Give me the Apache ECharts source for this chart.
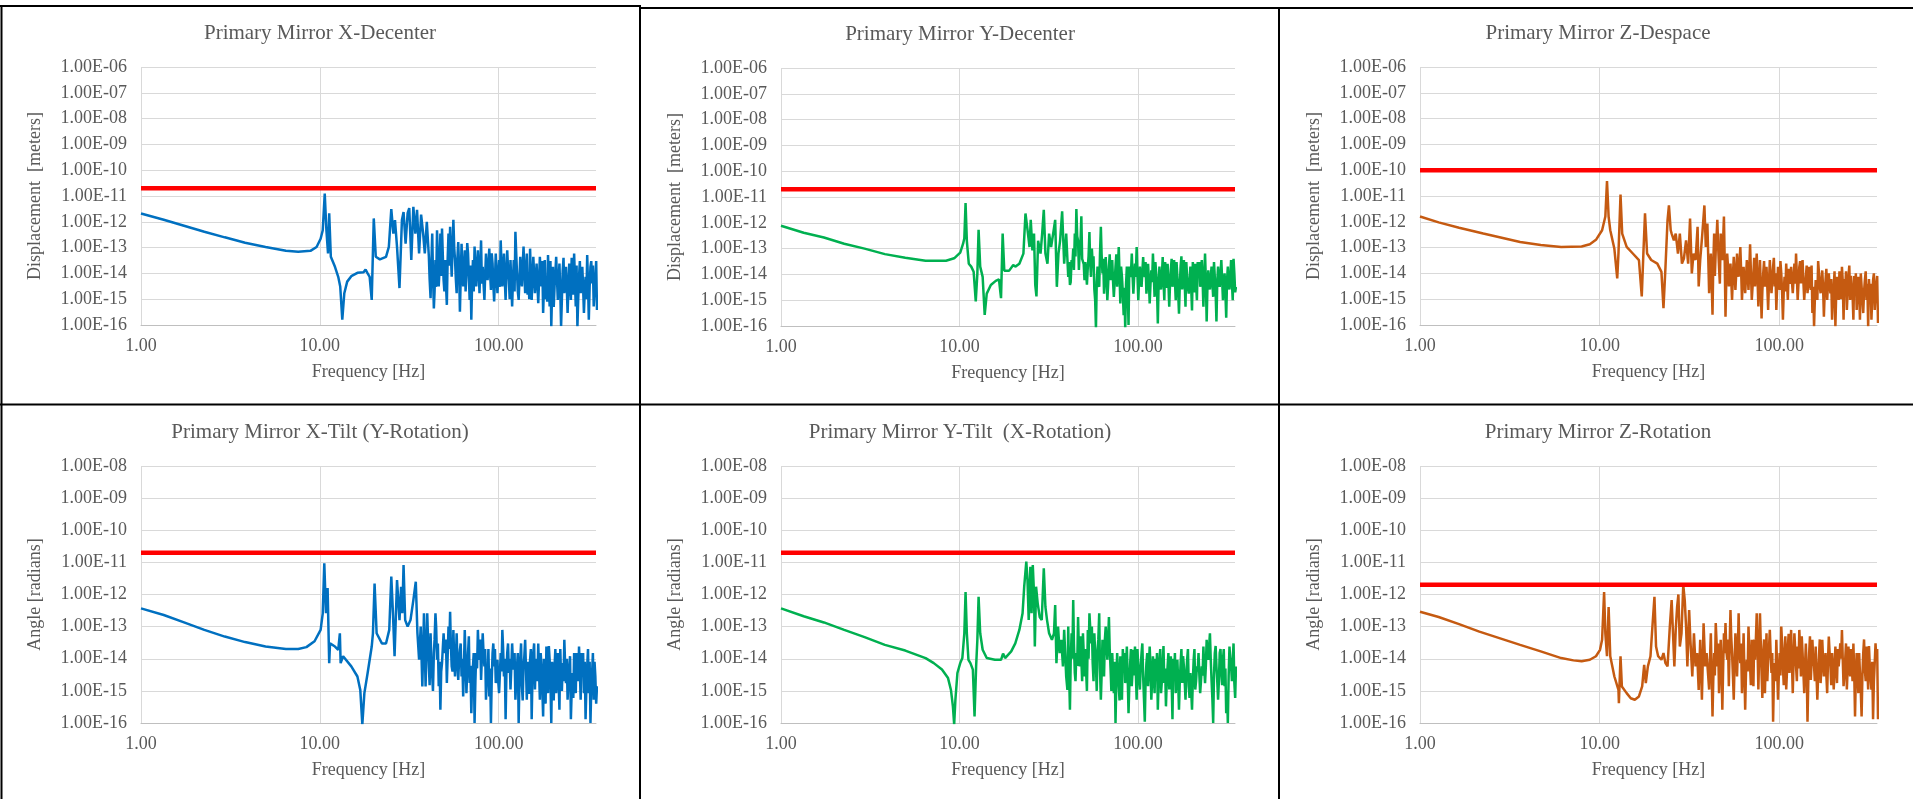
<!DOCTYPE html>
<html>
<head>
<meta charset="utf-8">
<title>Primary Mirror Motion Spectra</title>
<script src="https://cdn.jsdelivr.net/npm/echarts@6/dist/echarts.min.js"></script>
<style>
  html, body { margin: 0; padding: 0; background: #ffffff; }
  #chart { width: 1913px; height: 799px; }
</style>
</head>
<body>
<div id="chart"></div>
<script>
// Frequency grid [Hz] for the dense part of every spectrum (above ~40 Hz)
const GRID_HZ = [
  40.7, 41.6, 42.5, 43.4, 44.3, 45.2, 46.2, 47.2, 48.2, 49.2,
  50.2, 51.3, 52.4, 53.5, 54.6, 55.8, 57.0, 58.2, 59.4, 60.7,
  62.0, 63.3, 64.6, 66.0, 67.4, 68.8, 70.3, 71.8, 73.3, 74.9,
  76.5, 78.1, 79.7, 81.4, 83.2, 84.9, 86.7, 88.6, 90.5, 92.4,
  94.3, 96.3, 98.4, 100.5, 102.6, 104.8, 107.0, 109.3, 111.6, 114.0,
  116.4, 118.9, 121.4, 124.0, 126.6, 129.3, 132.0, 134.8, 137.7, 140.6,
  143.6, 146.7, 149.8, 152.9, 156.2, 159.5, 162.9, 166.4, 169.9, 173.5,
  177.2, 181.0, 184.8, 188.7, 192.7, 196.8, 201.0, 205.3, 209.6, 214.1,
  218.6, 223.3, 228.0, 232.8, 237.8, 242.8, 248.0, 253.3, 258.6, 264.1,
  269.7, 275.5, 281.3, 287.3, 293.4, 299.6, 306.0, 312.5, 319.1, 325.9,
  332.8, 339.9, 347.1, 354.5
];
// In-between samples of the same grid [Hz]
const GRID_MID_HZ = [
  41.1, 42.0, 42.9, 43.8, 44.7, 45.7, 46.7, 47.7, 48.7, 49.7,
  50.7, 51.8, 52.9, 54.0, 55.2, 56.4, 57.6, 58.8, 60.0, 61.3,
  62.6, 63.9, 65.3, 66.7, 68.1, 69.5, 71.0, 72.5, 74.1, 75.7,
  77.3, 78.9, 80.5, 82.3, 84.0, 85.8, 87.6, 89.5, 91.4, 93.3,
  95.3, 97.3, 99.4, 101.5, 103.7, 105.9, 108.1, 110.4, 112.8, 115.2,
  117.6, 120.1, 122.7, 125.3, 127.9, 130.6, 133.4, 136.2, 139.1, 142.1,
  145.1, 148.2, 151.3, 154.5, 157.8, 161.2, 164.6, 168.1, 171.7, 175.3,
  179.1, 182.9, 186.7, 190.7, 194.7, 198.9, 203.1, 207.4, 211.8, 216.3,
  221.0, 225.6, 230.4, 235.3, 240.3, 245.4, 250.6, 255.9, 261.3, 266.9,
  272.6, 278.4, 284.3, 290.3, 296.5, 302.8, 309.2, 315.8, 322.5, 329.3,
  336.3, 343.5, 350.8
];

// Frequency axis range [Hz]
const FREQ_MIN = 1;
const FREQ_MAX = 350;

// ---- X-Decenter [m] ----
const X_DECENTER_LOW = [
  [1.0,2.1e-12],[1.34,1.2e-12],[1.74,7e-13],[2.26,4.1e-13],[2.94,2.5e-13],[3.82,1.55e-13],[4.97,1.06e-13],
  [6.46,7.5e-14],[7.57,6.9e-14],[8.86,7.5e-14],[9.59,1.06e-13],[10.1,2.2e-13],[10.38,4.7e-13],[10.65,1.25e-11],
  [10.88,4.7e-13],[11.11,5.9e-14],[11.28,2.15e-12],[11.52,4.4e-14],[12.15,1.8e-14],[12.67,7.4e-15],[13.0,3.1e-15],
  [13.35,1.6e-16],[13.7,1.7e-15],[14.22,4.8e-15],[14.99,7.8e-15],[16.22,1.05e-14],[17.55,1.1e-14],[18.02,1.4e-14],
  [18.5,1e-14],[18.99,7.4e-15],[19.5,9.4e-16],[20.02,1.35e-12],[20.55,4.4e-14],[21.66,3.5e-14],[23.44,4.4e-14],
  [24.31,1.06e-13],[25.09,3.1e-12],[25.76,3.5e-13],[26.31,1.17e-12],[27.01,1.06e-13],[27.88,2.7e-15],[28.77,1.17e-12],
  [29.38,2.4e-12],[30.16,1.43e-13],[30.96,2.15e-12],[31.62,3.4e-12],[32.46,3.3e-14],[33.33,3.8e-12],[34.21,3.5e-13],
  [34.95,2.9e-12],[35.88,5.9e-14],[36.83,1.9e-12],[37.81,3.5e-13],[38.62,5.9e-14],[39.64,1e-12]
];
const X_DECENTER_HIGH = [
  4.4e-14, 1.1e-15, 3.5e-13, 4.4e-16, 3.3e-14, 4.7e-13, 3.1e-15, 3.5e-13, 5.5e-13, 5.5e-15,
  3.3e-14, 6e-16, 3.5e-13, 6.4e-13, 7.4e-15, 1.2e-12, 3.3e-14, 1.7e-15, 1.65e-13, 3.3e-16,
  1.4e-13, 3.1e-15, 7.9e-14, 1e-14, 5.9e-14, 9.4e-16, 1.6e-16, 3.3e-14, 1.1e-13, 3.1e-15,
  7.9e-14, 1.7e-15, 1.9e-13, 1.8e-14, 9.4e-16, 5.9e-14, 5.5e-15, 9.1e-14, 2.3e-15, 2.4e-14,
  8.1e-16, 5.9e-14, 1.7e-15, 3.3e-14, 1.9e-13, 3.1e-15, 5.9e-14, 9.4e-16, 7.9e-14, 5.5e-15,
  3.3e-14, 5.2e-16, 3.3e-14, 4.1e-13, 1e-14, 9.4e-16, 4.4e-14, 3.1e-15, 1.1e-13, 1.7e-15,
  5.9e-14, 1e-14, 9.1e-14, 9.4e-16, 4.4e-14, 1.7e-15, 2.4e-14, 7e-16, 4.4e-14, 3.1e-15,
  2.9e-16, 3.3e-14, 5.5e-15, 5.1e-14, 5.2e-16, 8.6e-17, 1.8e-14, 3.1e-15, 4.4e-14, 9.4e-16,
  2.4e-14, 9e-17, 1.3e-14, 1.7e-15, 1.8e-14, 2.9e-16, 2.4e-14, 9.4e-16, 1e-14, 5.9e-14,
  5.2e-16, 8.6e-17, 7.4e-15, 1.7e-15, 1.8e-14, 2.9e-16, 7.4e-15, 5.1e-14, 1.6e-16, 1.8e-14,
  4.1e-15, 5.2e-16, 7.4e-15, 3.8e-16
];
const X_DECENTER_MID = [
  6e-15, 2e-14, 1e-14, 2e-15, 3e-15, 4e-14, 1.5e-14, 8e-15, 5e-14, 2e-15,
  4e-15, 3e-14, 2e-14, 6e-14, 9e-14, 1e-13, 6e-15, 4e-14, 2e-14, 6e-15,
  1.5e-14, 1.5e-14, 2e-15, 1.5e-13, 8e-15, 2e-14, 4e-15, 2e-15, 2e-14, 1.5e-14,
  1.2e-14, 1.8e-14, 4e-15, 4e-15, 8e-15, 1.5e-14, 2e-14, 1e-14, 6e-14, 4e-15,
  6e-15, 1e-14, 8e-15, 3e-15, 2e-14, 1.2e-14, 6e-15, 1e-14, 1.5e-14, 1e-15,
  4e-15, 5e-15, 2e-15, 6e-14, 2e-15, 6e-15, 1e-14, 2e-14, 1.2e-14, 1e-14,
  1.5e-15, 1e-15, 8e-15, 6e-15, 9e-15, 6e-15, 4e-15, 5e-15, 1e-14, 3e-14,
  3e-15, 1e-15, 8e-16, 5e-15, 3e-14, 2e-15, 5e-16, 1e-14, 6e-15, 5e-15,
  2e-15, 1e-15, 4e-14, 6e-15, 3e-15, 3e-15, 5e-15, 4e-14, 1.5e-15, 6e-15,
  2e-14, 1e-15, 3e-14, 4e-15, 3e-15, 2e-15, 1e-15, 4e-15, 3e-15, 3e-14,
  2e-14, 2e-15, 3e-14
];

// ---- Y-Decenter [m] ----
const Y_DECENTER_LOW = [
  [1.0,7.7e-13],[1.34,4.1e-13],[1.74,2.7e-13],[2.26,1.55e-13],[2.94,1e-13],[3.82,6.1e-14],[4.97,4.4e-14],
  [6.46,3.4e-14],[8.41,3.4e-14],[9.34,4.2e-14],[10.1,7e-14],[10.48,1.55e-13],[10.65,2.5e-13],[10.82,5.8e-12],
  [11.0,2e-13],[11.28,2.6e-14],[11.64,2e-14],[12.01,1.27e-14],[12.34,9e-16],[12.6,1.1e-14],[12.8,5.4e-13],
  [13.07,2e-14],[13.49,8e-15],[13.85,2.7e-16],[14.22,1.8e-15],[14.99,3.9e-15],[15.97,5.6e-15],[16.65,6.4e-15],
  [17.1,1.2e-15],[17.46,3.8e-13],[17.83,1.4e-14],[18.99,1.4e-14],[20.02,2.3e-14],[20.55,2e-14],[21.66,2.6e-14],
  [22.82,6.4e-14],[23.44,2.3e-12],[24.06,5.4e-13],[24.7,1.15e-13],[25.09,1.3e-12],[25.63,8.5e-14],[26.17,3.8e-13],
  [26.59,3.9e-15],[27.01,1.4e-15],[27.59,2e-13],[28.47,6.4e-14],[29.07,3.8e-13],[29.69,3.2e-12],[30.32,6.4e-14],
  [31.13,2.6e-14],[31.79,3.8e-13],[32.63,1.15e-13],[33.5,3.8e-13],[34.39,1.3e-12],[35.13,3.3e-15],[35.88,6.4e-14],
  [36.64,2e-13],[37.62,2.8e-12],[38.62,2.6e-14],[39.64,3.8e-13]
];
const Y_DECENTER_HIGH = [
  8e-15, 3.9e-15, 3.6e-14, 1e-13, 3.8e-13, 3.4e-12, 2e-13, 8.5e-14, 1.8e-12, 3.6e-14,
  6e-15, 1.1e-14, 2e-14, 4.4e-13, 8e-15, 2.6e-14, 2.6e-15, 8e-17, 2e-14, 3.3e-15,
  7e-13, 1.1e-14, 1.8e-15, 4.7e-14, 1e-15, 2e-14, 6e-15, 3.6e-14, 1.35e-15, 2e-14,
  3.3e-15, 1.15e-13, 7.5e-16, 8e-15, 2.6e-16, 8e-17, 2e-14, 1.1e-16, 8e-15, 6.4e-14,
  1.8e-15, 2.6e-14, 1.15e-13, 1e-15, 2e-14, 3.3e-15, 4.7e-14, 8e-15, 1.8e-15, 2.6e-14,
  7.5e-16, 1.45e-14, 6.4e-14, 1.35e-15, 1.1e-14, 1.25e-16, 2e-14, 2.6e-15, 4.7e-14, 1e-15,
  8e-15, 2.6e-14, 5.6e-16, 1.45e-14, 3.3e-15, 3.6e-14, 1e-15, 8e-15, 3e-16, 2e-14,
  2.6e-15, 3.6e-14, 5.6e-16, 8e-15, 1.8e-15, 2e-14, 4e-16, 6e-15, 2.6e-14, 1e-15,
  1.1e-14, 3.3e-15, 3.6e-14, 5.6e-16, 6.4e-14, 1.5e-16, 1.45e-14, 2.6e-15, 2e-14, 1.35e-15,
  8e-15, 1.5e-16, 2e-14, 3.3e-15, 3.6e-14, 1e-15, 1.1e-14, 2.1e-16, 2e-14, 2.6e-15,
  3.6e-14, 1e-15, 1.1e-14, 3.3e-15
];
const Y_DECENTER_MID = [
  3e-14, 5e-15, 2e-14, 1.5e-14, 5e-14, 3e-13, 1.5e-14, 2e-13, 4e-14, 2.5e-14,
  3e-14, 4e-15, 5e-14, 3e-14, 1e-13, 5e-14, 1e-15, 5e-15, 4e-15, 6e-14,
  6e-14, 4e-14, 8e-15, 1e-14, 4e-15, 6e-14, 1e-14, 6e-15, 5e-15, 6e-14,
  2e-14, 1e-14, 2e-14, 2e-15, 3e-15, 4e-15, 3e-15, 2e-14, 1e-14, 1e-14,
  8e-15, 8e-15, 1e-14, 6e-15, 6e-15, 1.2e-14, 1.2e-14, 3e-14, 5e-15, 6e-15,
  4e-15, 5e-15, 1e-14, 3e-14, 3e-15, 4e-15, 5e-15, 8e-15, 6e-15, 3e-14,
  3e-15, 5e-15, 4e-15, 4e-14, 8e-15, 6e-15, 3e-14, 2e-15, 4e-15, 5e-14,
  1e-14, 5e-15, 3e-14, 3e-15, 5e-15, 3e-15, 3e-14, 2e-15, 5e-15, 3e-14,
  3e-14, 1e-14, 6e-15, 8e-15, 6e-15, 4e-15, 5e-15, 7e-15, 5e-15, 3e-14,
  2e-15, 5e-15, 6e-15, 1e-14, 6e-15, 4e-15, 2e-15, 6e-15, 4e-15, 8e-15,
  5e-15, 4e-14, 2e-15
];

// ---- Z-Despace [m] ----
const Z_DESPACE_LOW = [
  [1.0,1.6e-12],[1.27,9.5e-13],[1.65,5.9e-13],[2.25,3.5e-13],[3.61,1.65e-13],[4.7,1.25e-13],[6.11,1.06e-13],
  [7.94,1.1e-13],[8.82,1.35e-13],[9.54,2e-13],[10.32,4.7e-13],[10.76,1.6e-12],[10.99,3.8e-11],[11.22,1.6e-12],
  [11.46,4.7e-13],[12.08,9e-14],[12.53,6.4e-15],[12.73,5.9e-14],[13.07,1.15e-11],[13.35,3.5e-13],[14.14,1.06e-13],
  [15.3,5.9e-14],[16.55,3.3e-14],[17.16,1.27e-15],[17.52,5.9e-14],[17.89,2.15e-12],[18.37,5.9e-14],[19.36,3.3e-14],
  [20.95,2.4e-14],[22.08,1.15e-14],[22.67,4.5e-16],[23.26,1.8e-14],[23.88,1.17e-12],[24.31,4.3e-12],[24.87,4.7e-13],
  [25.17,3.5e-13],[25.9,1.9e-13],[26.52,3.5e-13],[27.29,5.9e-14],[27.96,3.5e-13],[28.72,2.4e-14],[29.46,3.8e-14],
  [30.28,1.9e-13],[31.1,2.4e-14],[31.87,1.35e-12],[32.6,1e-14],[33.3,5.9e-14],[34.2,3.3e-14],[35.1,6.4e-13],
  [35.6,3.1e-15],[36.3,3.3e-14],[37.3,3.5e-13],[38.3,4.3e-12],[39.0,1.06e-13],[39.8,8.6e-13]
];
const Z_DESPACE_HIGH = [
  1.7e-15, 5.9e-14, 2.5e-16, 3.5e-13, 7.9e-14, 1.2e-12, 1.8e-14, 3.5e-13, 3.3e-14, 1.6e-12,
  2.1e-16, 5.9e-14, 3.1e-15, 2.4e-14, 9.4e-16, 4.4e-14, 2.3e-15, 5.9e-14, 7.4e-15, 1.06e-13,
  9.4e-16, 1.8e-14, 1.7e-15, 3.3e-14, 2.3e-15, 1.35e-13, 9.4e-16, 1e-14, 3.1e-15, 5.9e-14,
  5.2e-16, 3.3e-14, 1.8e-16, 1e-14, 3.1e-15, 1.8e-14, 3.8e-16, 3.3e-14, 1.7e-15, 1.8e-14,
  3.1e-15, 3.8e-16, 1.8e-14, 2.3e-15, 1e-14, 1.6e-16, 7.4e-15, 2.4e-14, 9.4e-16, 5.5e-15,
  1.8e-14, 1.7e-15, 2.4e-14, 5.9e-14, 9.4e-16, 1.8e-14, 4.1e-15, 3.3e-14, 9.4e-16, 7.4e-15,
  1.7e-15, 1.8e-14, 2.3e-15, 2.9e-16, 8.6e-17, 5.5e-15, 9.4e-16, 1e-14, 1.7e-15, 1.3e-14,
  2.1e-16, 5.5e-15, 9.4e-16, 1e-14, 1.7e-15, 1.6e-16, 3.1e-15, 8.6e-17, 7.4e-15, 9.4e-16,
  4.1e-15, 1.8e-14, 1.6e-16, 2.3e-15, 3.8e-16, 7.4e-15, 9.4e-16, 3.1e-15, 1.6e-16, 2.3e-15,
  3.8e-16, 7.4e-15, 1.6e-16, 3.1e-15, 2.9e-16, 5.5e-15, 9.4e-16, 8.6e-17, 1.7e-15, 1.6e-16,
  5.5e-15, 3.8e-16, 4.1e-15, 1.2e-16
];
const Z_DESPACE_MID = [
  8e-15, 6e-15, 2e-14, 8e-15, 2e-13, 1e-13, 4e-15, 5e-14, 2e-13, 3e-14,
  5e-15, 2e-14, 8e-15, 6e-15, 8e-15, 1e-14, 1e-14, 1.5e-14, 2e-14, 1.5e-14,
  5e-15, 5e-15, 7e-15, 9e-15, 1.5e-14, 1.2e-14, 3e-15, 4e-14, 1e-14, 6e-15,
  4e-15, 3e-15, 2e-15, 3e-14, 6e-15, 3e-15, 4e-15, 8e-15, 5e-15, 4e-14,
  1e-14, 3e-15, 5e-15, 3e-14, 2e-15, 2e-15, 2e-15, 5e-15, 1.5e-14, 4e-15,
  5e-15, 6e-15, 4e-15, 8e-15, 4e-15, 3e-14, 1e-14, 5e-15, 3e-15, 2e-14,
  4e-15, 5e-15, 2e-14, 3e-15, 1e-15, 2e-15, 3e-14, 3e-15, 5e-15, 3e-15,
  2e-15, 1.5e-14, 4e-15, 3e-15, 6e-15, 1e-15, 1.2e-14, 1.5e-15, 2e-15, 1.2e-14,
  1e-15, 5e-15, 6e-15, 1.2e-14, 2e-15, 2e-14, 8e-15, 1.5e-15, 8e-15, 1e-14,
  2e-15, 2e-15, 1e-14, 1e-15, 2e-15, 1.2e-14, 4e-15, 6e-15, 4e-15, 1.2e-15,
  1e-14, 1.5e-15, 8e-15
];

// ---- X-Tilt [rad] ----
const X_TILT_LOW = [
  [1.0,3.7e-13],[1.34,2.3e-13],[1.74,1.35e-13],[2.26,7.9e-14],[2.94,4.9e-14],[3.82,3.3e-14],[4.97,2.4e-14],
  [6.46,2e-14],[7.57,2e-14],[8.41,2.3e-14],[9.34,3.5e-14],[10.1,7.9e-14],[10.38,2.6e-13],[10.59,9.3e-12],
  [10.82,2.6e-13],[11.05,1.6e-12],[11.28,7.3e-15],[11.4,3e-14],[12.15,2.4e-14],[12.67,1.9e-14],[12.94,6.2e-14],
  [13.07,7.3e-15],[13.49,1.2e-14],[14.99,5.8e-15],[16.22,2.8e-15],[16.83,1.07e-15],[17.28,9e-17],[17.74,8.5e-16],
  [18.5,3.6e-15],[19.5,2.4e-14],[19.81,6.2e-14],[20.23,2.2e-12],[20.77,6.2e-14],[22.23,3e-14],[23.44,3e-14],
  [24.44,7.9e-14],[25.09,3.6e-12],[25.63,2.6e-13],[26.17,1.2e-14],[27.01,2.8e-12],[27.88,1.6e-13],[28.47,1.75e-12],
  [28.92,2.6e-13],[29.38,8.2e-12],[30.0,1.6e-13],[30.96,1e-13],[32.12,1.6e-13],[33.33,6.7e-13],[34.39,2.5e-12],
  [35.13,6.2e-14],[35.88,9.3e-15],[36.64,1e-13],[37.42,1.37e-15],[38.21,2.6e-13],[39.02,1.37e-15],[39.85,2.6e-13]
];
const X_TILT_HIGH = [
  5.8e-15, 6.2e-14, 2.8e-15, 1.5e-14, 2.6e-13, 9.3e-15, 1.4e-15, 2.6e-16, 7.3e-15, 6.2e-14,
  1.5e-14, 1.75e-15, 1e-13, 2.9e-13, 5.8e-15, 7.9e-14, 2.8e-15, 6.2e-14, 2.2e-15, 1.9e-14,
  2.8e-15, 6.7e-16, 7.9e-14, 8.5e-16, 1.5e-14, 1.75e-15, 2e-16, 5.8e-15, 1e-16, 1.5e-14,
  7.9e-14, 9.3e-15, 2.2e-15, 6.2e-14, 5.8e-15, 5.3e-16, 3.6e-15, 6.7e-16, 1e-16, 1.5e-14,
  5.8e-15, 1.75e-15, 9.3e-15, 8.5e-16, 1.5e-14, 7.9e-14, 2.8e-15, 1.3e-16, 1.5e-14, 3.6e-15,
  1.1e-15, 3e-14, 4.6e-15, 5.3e-16, 5.8e-15, 1e-16, 9.3e-15, 1.4e-15, 5.8e-15, 3.9e-14,
  5.3e-16, 2.2e-15, 9.3e-15, 1.3e-16, 1.5e-14, 1.1e-15, 5.8e-15, 3e-14, 5.3e-16, 5.8e-15,
  1.6e-16, 2.2e-15, 2.4e-14, 8.5e-16, 9.3e-15, 1e-16, 1.75e-15, 5.8e-15, 8.5e-16, 1.5e-14,
  2.6e-16, 2.2e-15, 7.3e-15, 3.9e-14, 1.75e-15, 5.3e-16, 5.8e-15, 1.3e-16, 3.6e-15, 1.5e-14,
  8.5e-16, 5.8e-15, 2.4e-14, 5.3e-16, 4.6e-15, 8.5e-16, 1.3e-16, 5.8e-15, 8.5e-16, 1e-16,
  3.6e-15, 5.3e-16, 2.8e-15, 1.4e-15
];
const X_TILT_MID = [
  1.5e-15, 1e-14, 1e-15, 4e-14, 1e-13, 3e-14, 8e-15, 4e-15, 8e-15, 2e-14,
  4e-14, 1e-14, 2e-14, 3e-14, 4e-15, 1e-14, 1e-14, 8e-15, 8e-15, 3e-14,
  1e-14, 5e-15, 1e-14, 4e-15, 5e-14, 6e-15, 2e-15, 1.5e-14, 2e-15, 5e-15,
  1.5e-14, 4e-14, 1e-14, 1.5e-14, 2e-14, 2e-15, 2e-14, 5e-15, 2e-15, 3e-14,
  2e-14, 3e-15, 2e-15, 3e-15, 4e-15, 2e-14, 1e-14, 3e-15, 3e-14, 1e-14,
  5e-15, 8e-15, 1.5e-14, 2e-15, 1.5e-14, 2e-15, 3e-14, 5e-16, 1.2e-14, 5e-15,
  8e-15, 8e-16, 2e-14, 3e-15, 3e-14, 1e-14, 2e-15, 4e-15, 1.5e-14, 1.2e-15,
  1e-14, 4e-16, 5e-15, 2.5e-14, 2e-15, 8e-15, 5e-16, 2e-14, 3e-15, 2e-15,
  2e-14, 1e-15, 2e-15, 6e-15, 1e-14, 2e-15, 1.2e-14, 1e-15, 6e-16, 3e-15,
  1.5e-14, 2e-15, 4e-15, 1.5e-14, 1.5e-14, 8e-15, 1.2e-15, 2e-14, 8e-15, 1.2e-15,
  1.5e-14, 8e-15, 4e-16
];

// ---- Y-Tilt [rad] ----
const Y_TILT_LOW = [
  [1.0,3.7e-13],[1.34,2.1e-13],[1.74,1.35e-13],[2.26,7.9e-14],[2.94,4.7e-14],[3.82,2.7e-14],[4.97,1.8e-14],
  [6.46,1.05e-14],[7.18,7.3e-15],[7.98,4.6e-15],[8.63,2.5e-15],[8.96,1.07e-15],[9.19,3.3e-16],[9.34,9e-17],
  [9.49,5.3e-16],[9.74,3.6e-15],[10.1,7.3e-15],[10.38,1.05e-14],[10.65,6.2e-14],[10.82,1.2e-12],[11.0,6.2e-14],
  [11.23,9.3e-15],[11.52,7.3e-15],[11.89,4.6e-15],[12.15,1.6e-16],[12.4,5.8e-15],[12.6,3.9e-14],[12.8,8.5e-13],
  [13.07,6.2e-14],[13.49,1.9e-14],[14.22,1.05e-14],[15.8,9.3e-15],[17.1,9.3e-15],[17.55,1.45e-14],[18.02,1.05e-14],
  [19.5,1.7e-14],[20.55,3e-14],[21.66,7.9e-14],[22.58,2.6e-13],[23.06,1.75e-12],[23.69,1.05e-11],[24.06,2.8e-12],
  [24.44,1.6e-13],[24.96,7.3e-12],[25.36,2.6e-13],[25.76,8.2e-12],[26.17,1.07e-12],[26.45,2.4e-14],[26.87,1.75e-12],
  [27.44,5.3e-13],[28.17,2e-13],[28.92,1.6e-13],[29.69,6.5e-12],[30.32,4.1e-13],[30.96,1.6e-13],[31.79,6.2e-14],
  [32.98,3.9e-14],[33.86,6.2e-14],[34.39,4.7e-13],[34.95,7.3e-15],[35.69,1e-13],[36.45,1.5e-14],[37.22,3.9e-14],
  [38.01,5.8e-15],[38.62,7.9e-14],[39.64,2.8e-15],[40.27,1.07e-15]
];
const Y_TILT_HIGH = [
  1e-13, 2.6e-16, 6.2e-14, 6.7e-13, 3.6e-15, 1.5e-14, 2e-13, 5.8e-15, 9.3e-15, 6.2e-14,
  2.8e-15, 3.6e-15, 7.9e-14, 2.6e-13, 3e-14, 7.3e-15, 6.2e-14, 5.8e-15, 1.9e-14, 2.6e-13,
  5.3e-16, 3.9e-14, 2.8e-15, 1e-13, 9.3e-15, 2e-13, 4.6e-15, 1.5e-14, 8.5e-16, 1e-16,
  1.5e-14, 1.4e-15, 1.2e-14, 5.3e-16, 5.8e-15, 1.75e-15, 2.4e-14, 2e-16, 7.3e-15, 1.4e-15,
  1.9e-14, 2.4e-14, 5.3e-16, 5.8e-15, 1.1e-15, 1.5e-14, 2.8e-15, 1.1e-16, 7.3e-15, 1.4e-15,
  2.4e-14, 5.3e-16, 1.2e-14, 8.5e-16, 2.8e-15, 2.6e-16, 9.3e-15, 8.5e-16, 7.3e-15, 1.75e-15,
  3.3e-16, 5.8e-15, 1.1e-15, 1.2e-14, 1.3e-16, 2.8e-15, 8.5e-16, 9.3e-15, 2.6e-16, 7.3e-15,
  1.75e-15, 5.8e-15, 5.3e-16, 9.3e-15, 1.4e-15, 3.6e-15, 2.6e-16, 9.3e-15, 1.1e-15, 5.8e-15,
  1.5e-14, 8.5e-16, 5.8e-15, 2.4e-14, 1.75e-15, 3.9e-14, 9.3e-15, 6.2e-14, 2.2e-15, 1e-16,
  1.5e-14, 5.8e-15, 5.3e-16, 1.5e-14, 3.6e-15, 9.3e-15, 1.4e-15, 2e-16, 1e-16, 2.4e-14,
  5.8e-15, 9.3e-15, 1.75e-15, 5.8e-15
];
const Y_TILT_MID = [
  5e-15, 8e-15, 1e-14, 3e-14, 2e-15, 6e-15, 2e-14, 5e-14, 2e-15, 1.5e-14,
  2e-14, 1e-15, 1e-14, 1e-13, 1e-13, 2e-15, 1.5e-14, 1e-15, 4e-14, 5e-15,
  3e-15, 1e-14, 4e-14, 3e-14, 4e-14, 2e-14, 1e-15, 4e-15, 8e-15, 2e-15,
  5e-15, 5e-16, 3e-15, 2e-14, 1.5e-14, 6e-15, 3e-15, 1.5e-15, 2e-14, 4e-15,
  3e-15, 4e-15, 2e-14, 2e-15, 6e-15, 3e-14, 6e-16, 2e-15, 1.5e-14, 5e-15,
  6e-15, 2e-15, 4e-15, 1e-14, 1.5e-14, 2e-15, 2e-14, 2e-15, 2.5e-14, 5e-15,
  2e-15, 1.5e-14, 4e-15, 2e-15, 1e-14, 1.5e-14, 3e-15, 2e-15, 2e-15, 2e-14,
  1.2e-14, 2e-15, 3e-15, 2e-14, 6e-16, 1e-15, 2e-15, 2e-14, 2e-15, 4e-15,
  3e-15, 2e-15, 3e-15, 5e-15, 6e-15, 1.2e-14, 2.5e-14, 1e-14, 6e-16, 3e-15,
  2.5e-14, 2e-15, 2e-15, 2e-14, 1.5e-15, 2e-14, 5e-15, 1e-15, 3e-15, 1e-14,
  2e-15, 3e-14, 6e-16
];

// ---- Z-Rotation [rad] ----
const Z_ROTATION_LOW = [
  [1.0,2.9e-13],[1.27,2e-13],[1.65,1.2e-13],[2.14,7e-14],[3.61,2.7e-14],[4.7,1.7e-14],[6.11,1.05e-14],
  [7.15,8.9e-15],[7.94,8.3e-15],[8.82,9.3e-15],[9.54,1.2e-14],[10.05,1.9e-14],[10.32,3.9e-14],[10.59,1.2e-12],
  [10.76,6.2e-14],[10.99,1.2e-14],[11.22,4.1e-13],[11.46,1.2e-14],[12.08,2.8e-15],[12.73,1.07e-15],[12.8,4.1e-16],
  [13.07,1.2e-14],[13.3,1.37e-15],[14.14,8.5e-16],[14.9,5.9e-16],[15.7,5.3e-16],[16.55,6.7e-16],[17.25,1.37e-15],
  [17.7,6.5e-15],[18.07,1.75e-15],[18.56,5.8e-15],[19.19,1.2e-14],[19.56,6.2e-14],[20.19,8.5e-13],[20.61,2.4e-14],
  [21.17,1.2e-14],[22.08,9.3e-15],[22.67,1.5e-14],[23.26,7.3e-15],[23.88,5.8e-15],[24.59,1e-13],[25.17,6.7e-13],
  [25.61,6.2e-14],[26.06,5.8e-15],[26.52,7.9e-14],[27.0,4.1e-13],[27.45,1e-12],[27.96,2.4e-14],[28.56,6.2e-14],
  [29.21,2e-12],[29.77,6.7e-13],[30.28,1e-13],[30.8,5.8e-15],[31.5,3.3e-13],[32.0,3.9e-14],[32.8,2.8e-15],
  [33.5,6.2e-14],[34.2,5.8e-15],[34.9,1.5e-14],[35.6,1.07e-15],[36.3,3.9e-14],[37.1,5.3e-16],[37.9,1.27e-13],
  [38.7,5.8e-15],[39.4,1.5e-14]
];
const Z_ROTATION_HIGH = [
  1.1e-15, 6.2e-14, 1.6e-16, 1.5e-14, 1.3e-13, 5.8e-15, 8.5e-16, 3.9e-14, 2.6e-16, 6.2e-14,
  1.3e-13, 9.3e-15, 1.4e-15, 3.3e-13, 1.5e-14, 5.3e-16, 6.2e-14, 2.8e-15, 2.6e-13, 7.3e-15,
  8.5e-16, 6.2e-14, 2.6e-16, 9.3e-15, 1e-13, 5.8e-15, 3.9e-14, 1.4e-15, 9.3e-15, 2.6e-13,
  1.1e-15, 2.6e-13, 3.6e-15, 1.5e-14, 8.5e-16, 6.2e-14, 9.3e-15, 7.9e-14, 3.6e-15, 1.1e-16,
  7.3e-15, 3.9e-14, 5.3e-16, 1.5e-14, 1e-13, 5.8e-15, 1.5e-14, 1.1e-15, 2.4e-14, 3.6e-15,
  7.9e-14, 8.5e-16, 6.2e-14, 5.8e-15, 2.4e-14, 7.9e-14, 2.8e-15, 1.5e-14, 8.5e-16, 3e-14,
  1.1e-16, 1.5e-14, 2.2e-15, 3.9e-14, 5.8e-15, 2.4e-14, 5.3e-16, 1.2e-14, 1.75e-15, 3.9e-14,
  2.8e-15, 1.5e-14, 8.5e-16, 4.9e-14, 5.8e-15, 1.5e-14, 1.1e-15, 2.4e-14, 1.75e-15, 5.8e-15,
  3e-14, 7.9e-14, 1.4e-15, 9.3e-15, 1.1e-15, 2.4e-14, 2.8e-15, 5.8e-15, 3e-14, 1.6e-16,
  1.5e-14, 8.5e-16, 3.6e-15, 1.6e-16, 1.5e-14, 4.6e-15, 2.4e-14, 1.1e-15, 5.8e-15, 1.1e-15,
  1.3e-16, 7.3e-15, 9.3e-15, 1.3e-16
];
const Z_ROTATION_MID = [
  8e-15, 4e-15, 2e-15, 3e-15, 4e-14, 3e-14, 6e-15, 5e-15, 5e-15, 1.5e-14,
  2e-14, 4e-14, 2e-14, 5e-14, 3e-15, 8e-15, 1.5e-14, 2e-14, 2e-14, 3e-14,
  5e-15, 5e-15, 4e-15, 4e-15, 2e-14, 1.5e-15, 8e-15, 4e-14, 4e-14, 2e-14,
  1.5e-14, 3e-14, 6e-16, 4e-14, 8e-15, 2e-15, 2e-14, 1.5e-14, 1.5e-14, 2e-15,
  2e-15, 5e-15, 3e-15, 3e-15, 3e-14, 1.5e-15, 5e-14, 4e-15, 6e-14, 1.5e-14,
  8e-15, 8e-15, 2e-14, 2e-15, 5e-15, 2e-14, 5e-14, 4e-15, 6e-15, 5e-15,
  2e-15, 5e-14, 8e-15, 1e-14, 2e-15, 3e-15, 3e-15, 4e-14, 6e-15, 1e-14,
  6e-15, 3e-15, 8e-15, 1.5e-14, 1.5e-15, 5e-15, 5e-15, 6e-15, 2e-14, 1.2e-14,
  1e-14, 1e-14, 3e-15, 3e-14, 5e-15, 6e-15, 2e-14, 2e-15, 4e-15, 3e-15,
  4e-15, 1.5e-14, 1e-15, 3e-15, 4e-14, 2e-15, 5e-15, 2.5e-14, 2.5e-15, 8e-15,
  2e-15, 3e-14, 2e-14
];

// Requirement limits drawn as horizontal lines
const LIMITS = [2e-11, 2e-11, 1e-10, 2e-11, 2e-11, 2e-12];

const TITLES = [
  'Primary Mirror X-Decenter',
  'Primary Mirror Y-Decenter',
  'Primary Mirror Z-Despace',
  'Primary Mirror X-Tilt (Y-Rotation)',
  'Primary Mirror Y-Tilt  (X-Rotation)',
  'Primary Mirror Z-Rotation'
];
const Y_NAMES = [
  'Displacement  [meters]', 'Displacement  [meters]', 'Displacement  [meters]',
  'Angle [radians]', 'Angle [radians]', 'Angle [radians]'
];
const X_NAME = 'Frequency [Hz]';
const Y_TOP = [1e-6, 1e-6, 1e-6, 1e-8, 1e-8, 1e-8];
const Y_BOTTOM = 1e-16;

const SERIES_LOW = [X_DECENTER_LOW, Y_DECENTER_LOW, Z_DESPACE_LOW, X_TILT_LOW, Y_TILT_LOW, Z_ROTATION_LOW];
const SERIES_HIGH = [X_DECENTER_HIGH, Y_DECENTER_HIGH, Z_DESPACE_HIGH, X_TILT_HIGH, Y_TILT_HIGH, Z_ROTATION_HIGH];
const SERIES_MID = [X_DECENTER_MID, Y_DECENTER_MID, Z_DESPACE_MID, X_TILT_MID, Y_TILT_MID, Z_ROTATION_MID];
const COLORS = ['#0070C0', '#00B050', '#C55A11', '#0070C0', '#00B050', '#C55A11'];
const LIMIT_COLOR = '#FF0000';

// ---- layout (pixels) ----
const PANELS = [
  { left: 141,  top: 67,  width: 455, height: 258, titleX: 320,  titleY: 33 },
  { left: 781,  top: 68,  width: 454, height: 258, titleX: 960,  titleY: 34 },
  { left: 1420, top: 67,  width: 457, height: 258, titleX: 1598, titleY: 33 },
  { left: 141,  top: 466, width: 455, height: 257, titleX: 320,  titleY: 432 },
  { left: 781,  top: 466, width: 454, height: 257, titleX: 960,  titleY: 432 },
  { left: 1420, top: 466, width: 457, height: 257, titleX: 1598, titleY: 432 }
];

const FONT = "'Liberation Serif', 'Times New Roman', serif";
const TEXT = '#595959';
const GRID_LINE = '#d9d9d9';

// low-frequency samples, then the grid samples interleaved with the in-between ones
function spectrum(low, high, mid) {
  const pts = low.map(p => [p[0], p[1]]);
  const n = Math.min(high.length, GRID_HZ.length);
  for (let i = 0; i < n; i++) {
    pts.push([GRID_HZ[i], high[i]]);
    if (i < mid.length && i < GRID_MID_HZ.length) pts.push([GRID_MID_HZ[i], mid[i]]);
  }
  return pts;
}

function sciLabel(v) {
  const e = Math.round(Math.log10(v));
  const m = v / Math.pow(10, e);
  return m.toFixed(2) + 'E' + (e < 0 ? '-' : '+') + String(Math.abs(e)).padStart(2, '0');
}

const option = {
  animation: false,
  backgroundColor: '#ffffff',
  title: PANELS.map((p, i) => ({
    text: TITLES[i],
    left: p.titleX,
    top: p.titleY,
    textAlign: 'center',
    textVerticalAlign: 'middle',
    padding: 0,
    textStyle: { fontFamily: FONT, fontSize: 21, fontWeight: 'normal', color: TEXT }
  })),
  grid: PANELS.map(p => ({
    left: p.left, top: p.top, width: p.width, height: p.height,
    containLabel: false, outerBoundsMode: 'none'
  })),
  xAxis: PANELS.map((p, i) => ({
    type: 'log', logBase: 10, gridIndex: i,
    min: FREQ_MIN, max: FREQ_MAX,
    name: X_NAME, nameLocation: 'middle', nameGap: 38,
    nameTextStyle: { fontFamily: FONT, fontSize: 18, color: TEXT },
    axisLine: { show: true, lineStyle: { color: '#bfbfbf', width: 1 } },
    axisTick: { show: false },
    axisLabel: {
      fontFamily: FONT, fontSize: 18, color: TEXT, margin: 12,
      showMaxLabel: false,
      formatter: v => Number(v).toFixed(2)
    },
    splitLine: { show: true, showMaxLine: false, lineStyle: { color: GRID_LINE, width: 1 } }
  })),
  yAxis: PANELS.map((p, i) => ({
    type: 'log', logBase: 10, gridIndex: i,
    min: Y_BOTTOM, max: Y_TOP[i], interval: 1,
    name: Y_NAMES[i], nameLocation: 'middle', nameGap: 97,
    nameTextStyle: { fontFamily: FONT, fontSize: 18, color: TEXT },
    axisLine: { show: false },
    axisTick: { show: false },
    axisLabel: { fontFamily: FONT, fontSize: 18, color: TEXT, margin: 14, formatter: sciLabel },
    splitLine: { show: true, lineStyle: { color: GRID_LINE, width: 1 } }
  })),
  series: [].concat(...PANELS.map((p, i) => ([
    {
      type: 'line', xAxisIndex: i, yAxisIndex: i,
      data: spectrum(SERIES_LOW[i], SERIES_HIGH[i], SERIES_MID[i]),
      symbol: 'none', clip: true, z: 2,
      lineStyle: { color: COLORS[i], width: 2.5 },
      itemStyle: { color: COLORS[i] }
    },
    {
      type: 'line', xAxisIndex: i, yAxisIndex: i,
      data: [[FREQ_MIN, LIMITS[i]], [FREQ_MAX, LIMITS[i]]],
      symbol: 'none', clip: true, z: 3,
      lineStyle: { color: LIMIT_COLOR, width: 4.5 },
      itemStyle: { color: LIMIT_COLOR }
    }
  ]))),
  // frames around the six panels
  graphic: [
    { type: 'line', shape: { x1: 0, y1: 6, x2: 640, y2: 6 }, style: { stroke: '#000', lineWidth: 2 } },
    { type: 'line', shape: { x1: 640, y1: 8, x2: 1913, y2: 8 }, style: { stroke: '#000', lineWidth: 2 } },
    { type: 'line', shape: { x1: 1.5, y1: 5, x2: 1.5, y2: 799 }, style: { stroke: '#000', lineWidth: 2 } },
    { type: 'line', shape: { x1: 640, y1: 5, x2: 640, y2: 799 }, style: { stroke: '#000', lineWidth: 2 } },
    { type: 'line', shape: { x1: 1279, y1: 7, x2: 1279, y2: 799 }, style: { stroke: '#000', lineWidth: 2 } },
    { type: 'line', shape: { x1: 0, y1: 404.5, x2: 1913, y2: 404.5 }, style: { stroke: '#000', lineWidth: 2 } }
  ]
};

const chart = echarts.init(document.getElementById('chart'), null, { renderer: 'canvas' });
chart.setOption(option);
</script>
</body>
</html>
